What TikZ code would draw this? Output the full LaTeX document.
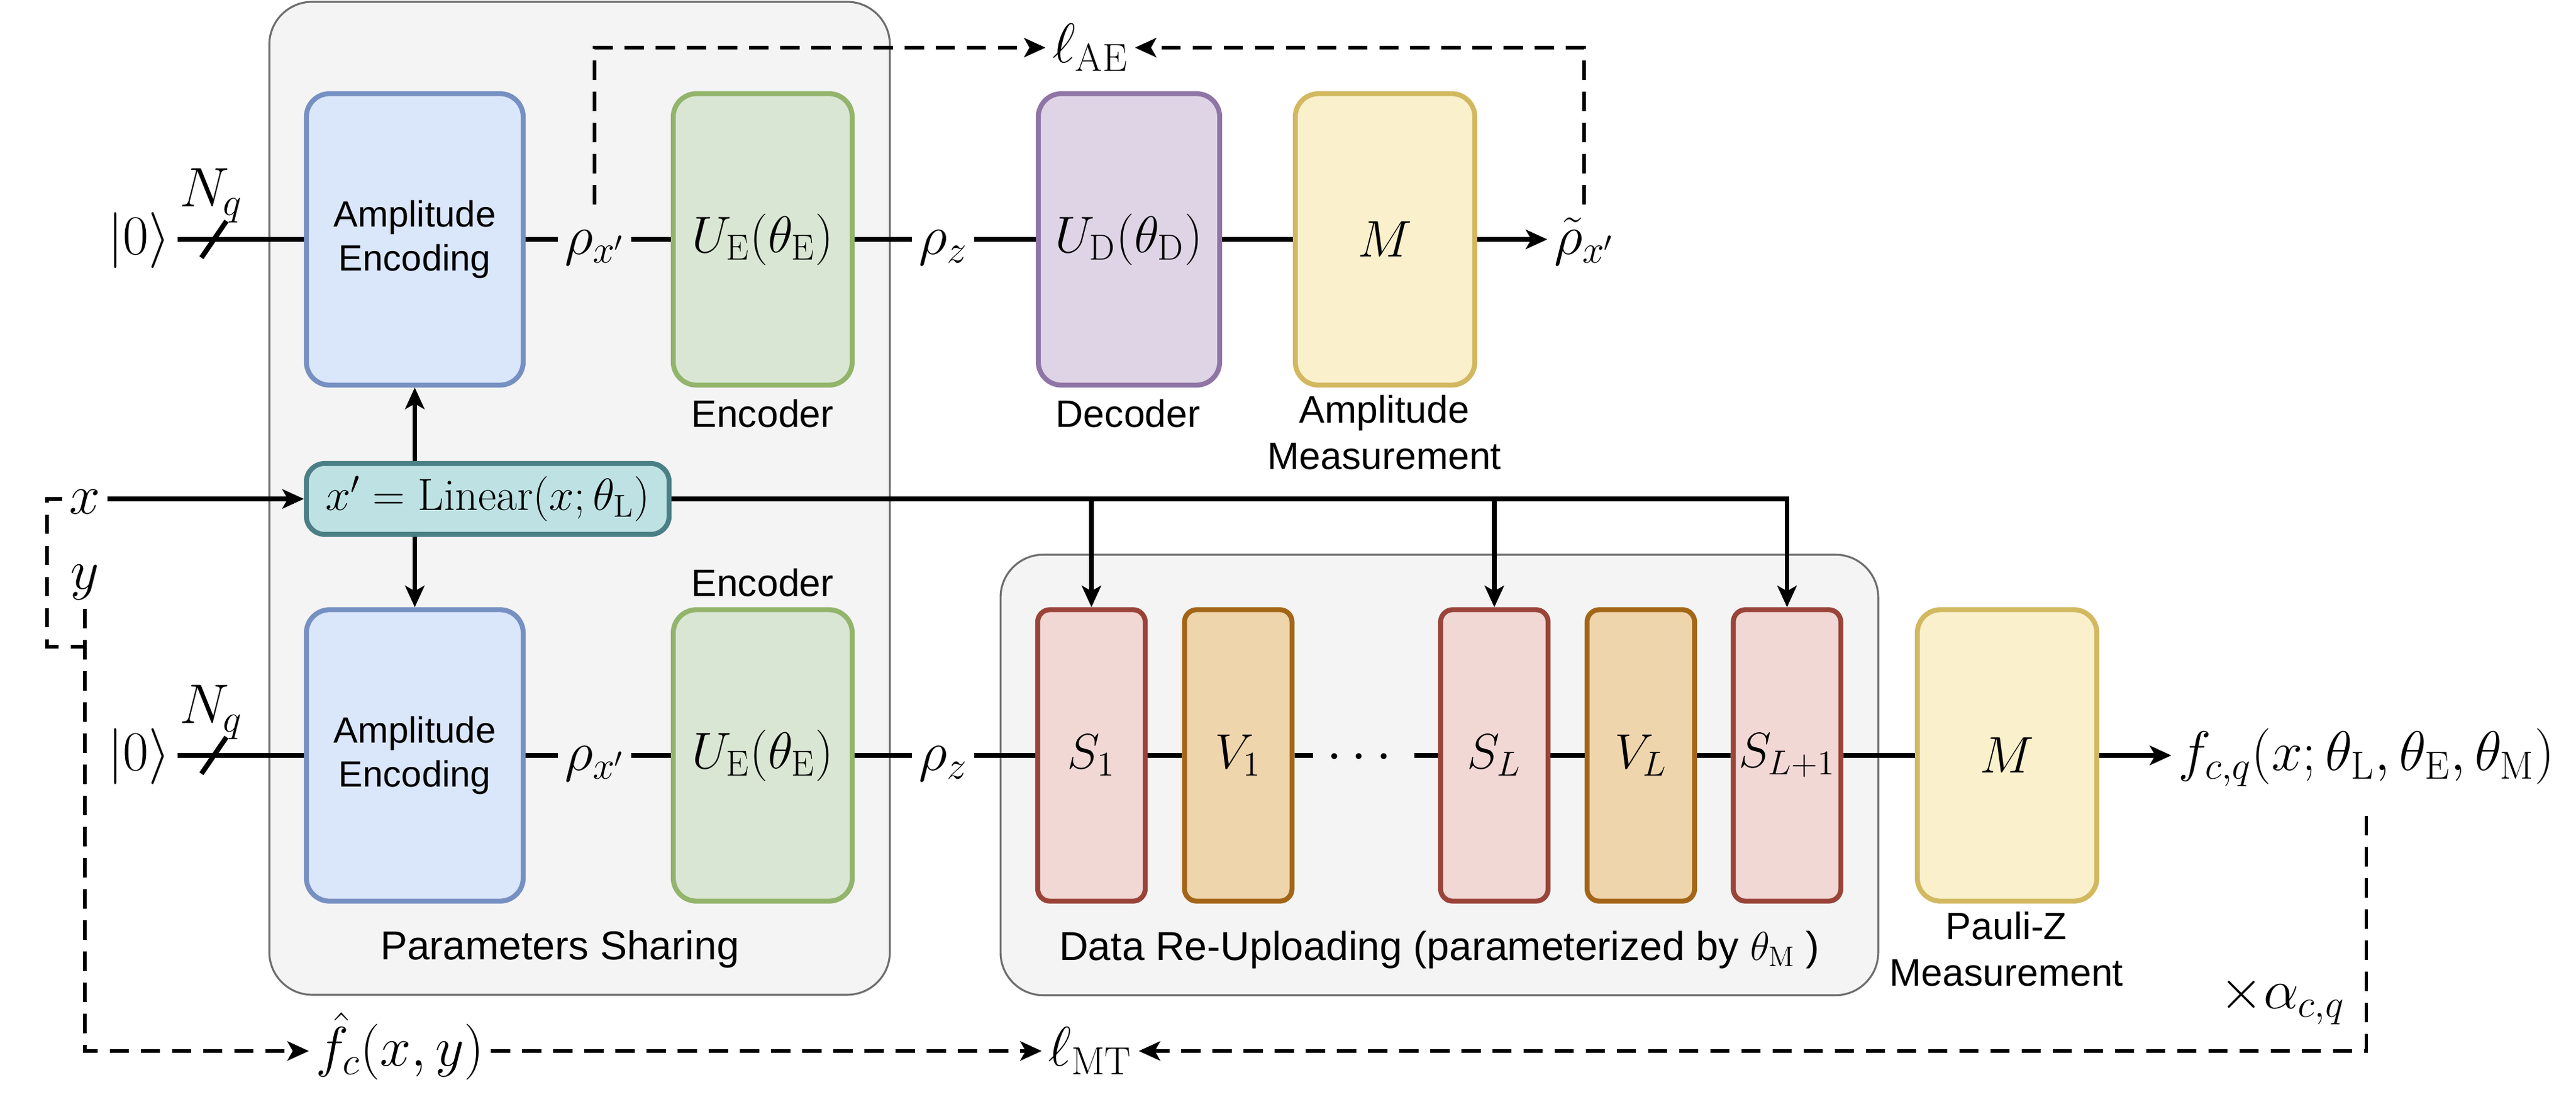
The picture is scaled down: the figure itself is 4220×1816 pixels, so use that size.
\RequirePackage{fix-cm}
\documentclass[tikz,border=0pt]{standalone}
\usepackage{amsmath}
\usepackage{fontspec}
\setsansfont{Liberation Sans}
\usetikzlibrary{arrows.meta,calc}

\definecolor{groupfill}{HTML}{F4F4F4}
\definecolor{groupline}{HTML}{6E6E6E}
\definecolor{ampfill}{HTML}{DAE6FA}
\definecolor{ampline}{HTML}{7690C2}
\definecolor{uefill}{HTML}{D9E6D3}
\definecolor{ueline}{HTML}{92B46B}
\definecolor{udfill}{HTML}{DED4E6}
\definecolor{udline}{HTML}{8F75A6}
\definecolor{measfill}{HTML}{FAF0CC}
\definecolor{measline}{HTML}{D2B85F}
\definecolor{sfill}{HTML}{F2D8D5}
\definecolor{sline}{HTML}{9A4439}
\definecolor{vfill}{HTML}{EFD5AC}
\definecolor{vline}{HTML}{A36618}
\definecolor{linfill}{HTML}{BEE2E3}
\definecolor{linline}{HTML}{4A7F85}

\begin{document}
\begin{tikzpicture}[x=0.01cm,y=-0.01cm,
    >={Stealth[length=10pt,width=9pt,inset=2.5pt]},
    groupbox/.style={draw=groupline,fill=groupfill,line width=0.9pt,rounded corners=0.7cm},
    gate/.style={draw,line width=2.3pt,rounded corners=0.38cm,minimum height=4.77cm,
        inner sep=0pt,align=center,font=\fontsize{24}{28}\selectfont},
    ampbox/.style={gate,fill=ampfill,draw=ampline,minimum width=3.55cm,
        font=\sffamily\fontsize{17}{20.5}\selectfont},
    uebox/.style={gate,fill=uefill,draw=ueline,minimum width=2.93cm},
    udbox/.style={gate,fill=udfill,draw=udline,minimum width=2.97cm},
    measbox/.style={gate,fill=measfill,draw=measline,minimum width=2.94cm},
    sbox/.style={gate,fill=sfill,draw=sline,minimum width=1.76cm,rounded corners=0.2cm,
        font=\fontsize{23}{27}\selectfont},
    vbox/.style={sbox,fill=vfill,draw=vline},
    linbox/.style={draw=linline,fill=linfill,line width=2.3pt,rounded corners=0.3cm,
        minimum width=5.94cm,minimum height=1.16cm,inner sep=0pt,font=\fontsize{21}{25}\selectfont},
    lbl/.style={inner sep=3pt,text height=20pt,text depth=6pt,font=\fontsize{26}{30}\selectfont},
    caption/.style={align=center,font=\sffamily\fontsize{17.8}{21.5}\selectfont},
    bigcaption/.style={caption,font=\sffamily\fontsize{18.8}{22}\selectfont},
    wire/.style={line width=2.3pt},
    arrowline/.style={line width=2.1pt,->},
    dashline/.style={line width=1.6pt,dash pattern=on 9pt off 5.5pt}]
\useasboundingbox (0,0) rectangle (4220,1816);

\node[groupbox,minimum width=10.16cm,minimum height=16.25cm] (share) at (949.5,816) {};
\node[groupbox,minimum width=14.37cm,minimum height=7.21cm] (reup) at (2358,1269) {};

\node[lbl] (zero1) at (228,392) {$|0\rangle$};
\node[lbl] (nq1) at (346,314) {$N_q$};
\node[ampbox] (amp1) at (679.5,392) {Amplitude\\Encoding};
\node[lbl] (rhox1) at (974,392) {$\rho_{x'}$};
\node[uebox] (ue1) at (1249.5,392) {$U_{\mathrm{E}}(\theta_{\mathrm{E}})$};
\node[lbl] (rhoz1) at (1545,392) {$\rho_z$};
\node[udbox] (ud) at (1849.5,392) {$U_{\mathrm{D}}(\theta_{\mathrm{D}})$};
\node[measbox] (meas1) at (2269,392) {$M$};
\node[lbl] (rhot) at (2595,392) {$\tilde{\rho}_{x'}$};
\node[lbl] (lae) at (1786,78) {$\ell_{\mathrm{AE}}$};

\node[caption] (enc1cap) at (1249,677) {Encoder};
\node[caption] (deccap) at (1848,677) {Decoder};
\node[caption] (ampmeascap) at (2268,708) {Amplitude\\Measurement};

\node[lbl] (xin) at (139,817) {$x$};
\node[lbl] (yin) at (139,940) {$y$};
\node[linbox] (lin) at (799,817) {$x' = \mathrm{Linear}(x;\theta_{\mathrm{L}})$};

\node[lbl] (zero2) at (228,1237) {$|0\rangle$};
\node[lbl] (nq2) at (346,1160) {$N_q$};
\node[ampbox] (amp2) at (679.5,1237) {Amplitude\\Encoding};
\node[lbl] (rhox2) at (974,1237) {$\rho_{x'}$};
\node[uebox] (ue2) at (1249.5,1237) {$U_{\mathrm{E}}(\theta_{\mathrm{E}})$};
\node[lbl] (rhoz2) at (1545,1237) {$\rho_z$};
\node[sbox] (s1) at (1788,1237) {$S_1$};
\node[vbox] (v1) at (2028.5,1237) {$V_1$};
\node[lbl,inner sep=6pt] (dots) at (2234,1237) {$\cdots$};
\node[sbox] (sL) at (2448,1237) {$S_L$};
\node[vbox] (vL) at (2688,1237) {$V_L$};
\node[sbox] (sL1) at (2927.5,1237) {$S_{L+1}$};
\node[measbox] (meas2) at (3288,1237) {$M$};
\node[lbl,anchor=west] (fout) at (3557,1237) {$f_{c,q}(x;\theta_{\mathrm{L}},\theta_{\mathrm{E}},\theta_{\mathrm{M}})$};

\node[caption] (enc2cap) at (1249,954) {Encoder};
\node[bigcaption] (sharecap) at (917,1554) {Parameters Sharing};
\node[bigcaption] (reupcap) at (2358,1555) {Data Re-Uploading (parameterized by $\theta_{\mathrm{M}}$\ )};
\node[caption] (paulicap) at (3287,1554) {Pauli-Z\\Measurement};

\node[lbl] (fhat) at (655,1721) {$\hat{f}_c(x,y)$};
\node[lbl] (lmt) at (1786,1721) {$\ell_{\mathrm{MT}}$};
\node[lbl] (alpha) at (3739,1627) {$\times\alpha_{c,q}$};
\coordinate (xturn) at (77,1059);

\draw[wire] (zero1) -- (amp1) -- (rhox1) -- (ue1) -- (rhoz1) -- (ud) -- (meas1);
\draw[wire,->] (meas1) -- (rhot);
\draw[wire] (zero2) -- (amp2) -- (rhox2) -- (ue2) -- (rhoz2) -- (s1) -- (v1) -- (dots)
    -- (sL) -- (vL) -- (sL1) -- (meas2);
\draw[wire,->] (meas2) -- (fout);
\draw[wire] (330,422) -- (371,362);
\draw[wire] (330,1267) -- (371,1207);

\draw[arrowline] (xin) -- (lin);
\draw[arrowline] (amp1.south |- lin.north) -- (amp1.south);
\draw[arrowline] (amp2.north |- lin.south) -- (amp2.north);
\draw[arrowline] (lin.east) -| (sL1.north);
\draw[arrowline] (s1.north |- lin.east) -- (s1.north);
\draw[arrowline] (sL.north |- lin.east) -- (sL.north);

\draw[dashline,->] (rhox1.north) |- (lae.west);
\draw[dashline,->] (rhot.north) |- (lae.east);
\draw[dashline] (xin.west) -| (xturn) -- (xturn -| yin.south);
\draw[dashline,->] (yin.south) |- (fhat.west);
\draw[dashline,->] (fhat.east) -- (lmt.west);
\draw[dashline,->,shorten <=12pt] (fout.south) |- (lmt.east);
\end{tikzpicture}
\end{document}
